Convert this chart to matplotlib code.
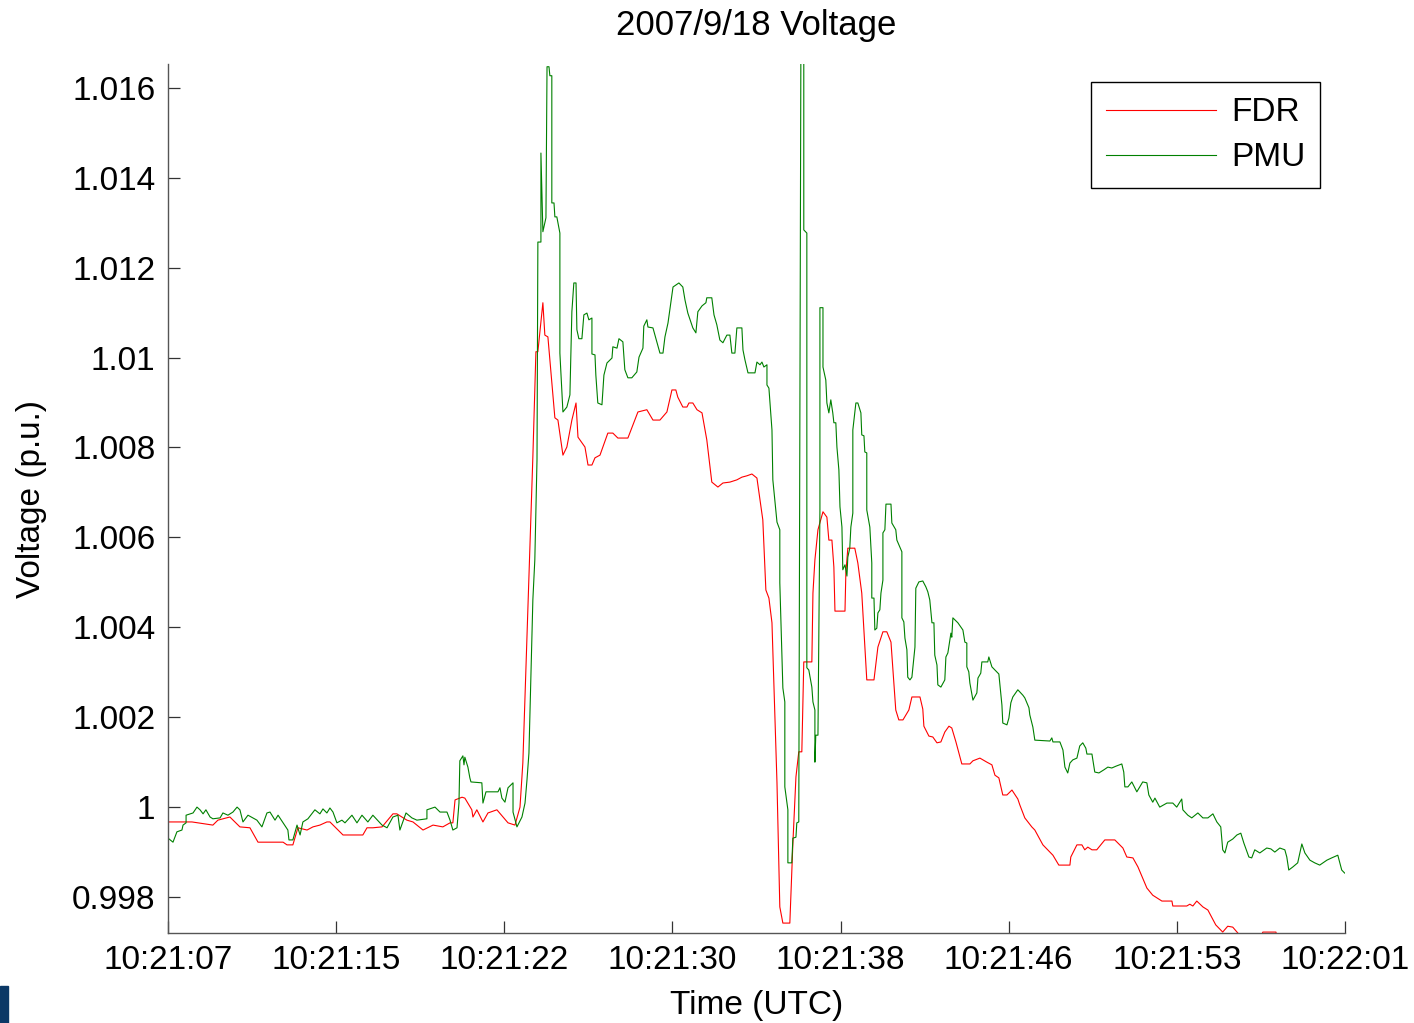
import matplotlib
matplotlib.use('Agg')
import matplotlib.pyplot as plt
import numpy as np

plt.rcParams['font.family'] = ['Liberation Sans', 'DejaVu Sans']

# seconds after 10:21:07
tick_labels = ['10:21:07', '10:21:15', '10:21:22', '10:21:30',
               '10:21:38', '10:21:46', '10:21:53', '10:22:01']

fdr_t = [0.00, 1.10, 2.06, 2.29, 2.84, 3.30, 3.76, 4.13, 5.28, 5.46, 5.73, 5.96, 6.38, 6.65,
         6.97, 7.29, 7.43, 8.03, 8.94, 9.13, 9.40, 9.82, 10.32, 10.50, 10.96, 11.24, 11.70,
         12.16, 12.61, 12.94, 13.07, 13.17, 13.49, 13.62, 13.94, 13.99, 14.17, 14.45, 14.68,
         15.09, 15.37, 15.60, 15.92, 16.15, 16.28, 16.74, 16.88, 16.97, 17.20, 17.29, 17.43,
         17.75, 17.89, 18.07, 18.12, 18.30, 18.53, 18.72, 18.81, 19.13, 19.27, 19.45, 19.59,
         19.82, 20.18, 20.41, 20.64, 21.10, 21.56, 21.97, 22.25, 22.57, 22.89, 23.12, 23.30,
         23.39, 23.62, 23.81, 23.90, 24.08, 24.27, 24.50, 24.72, 24.95, 25.23, 25.46, 25.78,
         26.10, 26.33, 26.56, 26.79, 27.02, 27.29, 27.43, 27.57, 27.71, 27.94, 28.07, 28.21,
         28.53, 28.67, 28.81, 28.94, 29.08, 29.17, 29.54, 29.59, 29.68, 29.82, 30.05, 30.23,
         30.32, 30.46, 30.55, 30.60, 31.06, 31.10, 31.19, 31.51, 31.65, 31.83, 32.06, 32.39,
         32.57, 32.80, 32.98, 33.17, 33.39, 33.53, 33.72, 33.99, 34.13, 34.50, 34.63, 34.68,
         34.91, 35.09, 35.28, 35.46, 35.64, 35.83, 35.96, 36.15, 36.42, 36.79, 36.93, 37.25,
         37.57, 37.80, 37.94, 38.12, 38.30, 38.49, 38.72, 38.99, 39.08, 39.31, 39.63, 39.77,
         40.14, 40.60, 40.87, 41.38, 41.42, 41.70, 41.93, 42.06, 42.20, 42.39, 42.61, 42.98,
         43.44, 43.81, 43.99, 44.27, 44.50, 44.91, 45.18, 45.60, 46.06, 46.10, 46.74, 46.88,
         47.02, 47.20, 47.48, 47.71, 48.07, 48.39, 48.62, 48.85, 49.17, 49.50, 50.15, 50.23,
         50.83, 50.90, 51.50, 52.50, 54.00]
fdr_v = [0.99967, 0.99967, 0.99960, 0.99971, 0.99978, 0.99956, 0.99954, 0.99922, 0.99922,
         0.99916, 0.99916, 0.99954, 0.99949, 0.99956, 0.99960, 0.99967, 0.99967, 0.99938,
         0.99938, 0.99954, 0.99954, 0.99956, 0.99985, 0.99985, 0.99971, 0.99967, 0.99949,
         0.99960, 0.99956, 0.99965, 0.99965, 1.00016, 1.00022, 1.00020, 0.99994, 0.99978,
         0.99994, 0.99967, 0.99987, 0.99994, 0.99978, 0.99965, 0.99960, 1.00000, 1.00098,
         1.00779, 1.01013, 1.01013, 1.01122, 1.01050, 1.01046, 1.00866, 1.00861, 1.00801,
         1.00783, 1.00801, 1.00861, 1.00899, 1.00823, 1.00801, 1.00761, 1.00761, 1.00777,
         1.00783, 1.00832, 1.00832, 1.00821, 1.00821, 1.00879, 1.00884, 1.00861, 1.00861,
         1.00879, 1.00928, 1.00928, 1.00912, 1.00890, 1.00890, 1.00899, 1.00899, 1.00884,
         1.00877, 1.00817, 1.00723, 1.00712, 1.00721, 1.00723, 1.00728, 1.00734, 1.00737,
         1.00741, 1.00732, 1.00639, 1.00483, 1.00465, 1.00410, 1.00054, 0.99778, 0.99742,
         0.99742, 0.99920, 1.00067, 1.00123, 1.00123, 1.00323, 1.00323, 1.00476, 1.00550,
         1.00617, 1.00657, 1.00645, 1.00594, 1.00594, 1.00534, 1.00436, 1.00436, 1.00521,
         1.00576, 1.00576, 1.00543, 1.00476, 1.00283, 1.00283, 1.00356, 1.00390, 1.00390,
         1.00367, 1.00216, 1.00194, 1.00194, 1.00216, 1.00245, 1.00245, 1.00218, 1.00180,
         1.00158, 1.00156, 1.00143, 1.00145, 1.00167, 1.00180, 1.00176, 1.00145, 1.00096,
         1.00096, 1.00103, 1.00109, 1.00100, 1.00094, 1.00071, 1.00065, 1.00027, 1.00027,
         1.00038, 1.00018, 1.00005, 0.99976, 0.99956, 0.99949, 0.99916, 0.99893, 0.99871,
         0.99871, 0.99889, 0.99916, 0.99916, 0.99905, 0.99911, 0.99905, 0.99905, 0.99927,
         0.99927, 0.99909, 0.99889, 0.99887, 0.99867, 0.99820, 0.99804, 0.99791, 0.99791,
         0.99780, 0.99780, 0.99784, 0.99780, 0.99791, 0.99778, 0.99771, 0.99738, 0.99722,
         0.99735, 0.99733, 0.99715, 0.99705, 0.99712, 0.99722, 0.99722, 0.99710, 0.99690,
         0.99680, 0.99680]

pmu_t = [0.00, 0.23, 0.41, 0.64, 0.69, 0.83, 0.83, 1.15, 1.33, 1.47, 1.61, 1.74, 1.93, 2.06,
         2.39, 2.52, 2.75, 2.98, 3.17, 3.30, 3.44, 3.67, 4.08, 4.31, 4.54, 4.68, 4.91, 5.05,
         5.50, 5.55, 5.73, 5.92, 6.06, 6.19, 6.42, 6.74, 6.97, 7.11, 7.29, 7.43, 7.57, 7.75,
         7.98, 8.12, 8.44, 8.67, 8.90, 9.17, 9.40, 9.82, 10.05, 10.32, 10.55, 10.64, 10.92,
         11.19, 11.42, 11.88, 11.88, 12.25, 12.48, 12.80, 12.94, 13.07, 13.26, 13.35, 13.39,
         13.53, 13.58, 13.62, 13.76, 13.85, 13.90, 14.40, 14.45, 14.59, 15.14, 15.23, 15.32,
         15.46, 15.60, 15.83, 15.83, 16.01, 16.24, 16.38, 16.47, 16.56, 16.74, 16.83, 16.93,
         16.97, 17.11, 17.11, 17.20, 17.34, 17.39, 17.48, 17.52, 17.61, 17.61, 17.71, 17.75,
         17.84, 17.98, 17.98, 18.12, 18.30, 18.44, 18.53, 18.62, 18.72, 18.76, 18.85, 18.99,
         19.08, 19.22, 19.31, 19.45, 19.45, 19.59, 19.63, 19.72, 19.91, 20.00, 20.14, 20.37,
         20.41, 20.60, 20.69, 20.87, 20.96, 21.10, 21.28, 21.51, 21.61, 21.79, 21.83, 21.97,
         22.02, 22.25, 22.43, 22.57, 22.71, 22.80, 22.94, 23.07, 23.17, 23.44, 23.62, 23.72,
         23.85, 24.08, 24.22, 24.31, 24.50, 24.68, 24.72, 24.95, 25.05, 25.18, 25.32, 25.46,
         25.64, 25.78, 25.87, 26.01, 26.10, 26.33, 26.38, 26.47, 26.61, 26.93, 27.02, 27.16,
         27.25, 27.34, 27.48, 27.48, 27.57, 27.71, 27.75, 27.84, 27.94, 28.07, 28.07, 28.21,
         28.30, 28.30, 28.44, 28.44, 28.62, 28.67, 28.81, 28.85, 28.94, 29.04, 29.17, 29.17,
         29.31, 29.31, 29.40, 29.54, 29.59, 29.68, 29.68, 29.72, 29.82, 29.91, 29.91, 30.05,
         30.05, 30.18, 30.23, 30.32, 30.41, 30.50, 30.55, 30.64, 30.69, 30.78, 30.83, 30.92,
         30.96, 31.06, 31.15, 31.19, 31.28, 31.33, 31.42, 31.42, 31.56, 31.65, 31.79, 31.83,
         31.93, 31.97, 32.06, 32.06, 32.20, 32.29, 32.29, 32.39, 32.43, 32.52, 32.57, 32.66,
         32.71, 32.80, 32.80, 32.89, 32.94, 33.17, 33.21, 33.39, 33.44, 33.67, 33.67, 33.76,
         33.81, 33.90, 33.94, 34.04, 34.13, 34.27, 34.31, 34.45, 34.63, 34.77, 34.86, 34.95,
         35.05, 35.14, 35.18, 35.28, 35.32, 35.46, 35.64, 35.69, 35.78, 35.92, 35.96, 36.01,
         36.24, 36.47, 36.56, 36.65, 36.65, 36.74, 36.79, 36.93, 37.11, 37.16, 37.29, 37.34,
         37.61, 37.66, 37.80, 38.12, 38.26, 38.30, 38.49, 38.58, 38.67, 38.76, 38.99, 39.22,
         39.31, 39.50, 39.54, 39.68, 39.77, 40.46, 40.55, 40.60, 40.92, 41.06, 41.15, 41.28,
         41.38, 41.51, 41.70, 41.83, 41.97, 42.11, 42.16, 42.39, 42.52, 42.71, 42.94, 43.12,
         43.30, 43.49, 43.76, 43.85, 43.90, 44.04, 44.22, 44.45, 44.72, 44.91, 45.00, 45.18,
         45.28, 45.50, 45.83, 46.10, 46.28, 46.51, 46.56, 46.79, 46.97, 47.25, 47.48, 47.71,
         47.94, 48.12, 48.30, 48.39, 48.49, 48.62, 48.85, 49.04, 49.22, 49.36, 49.59, 49.72,
         49.86, 50.09, 50.41, 50.60, 50.78, 51.01, 51.24, 51.33, 51.42, 51.61, 51.83, 52.02,
         52.16, 52.39, 52.61, 52.84, 53.17, 53.39, 53.67, 53.85, 53.99, 54.17]
pmu_v = [0.99931, 0.99922, 0.99945, 0.99949, 0.99960, 0.99965, 0.99982, 0.99987, 1.00000,
         0.99994, 0.99985, 0.99994, 0.99978, 0.99974, 0.99976, 0.99987, 0.99982, 0.99989,
         1.00000, 0.99994, 0.99967, 0.99982, 0.99971, 0.99956, 0.99987, 0.99989, 0.99971,
         0.99982, 0.99949, 0.99927, 0.99927, 0.99960, 0.99938, 0.99967, 0.99974, 0.99994,
         0.99985, 0.99996, 0.99987, 0.99998, 0.99989, 0.99965, 0.99971, 0.99965, 0.99982,
         0.99965, 0.99982, 0.99967, 0.99982, 0.99960, 0.99954, 0.99978, 0.99982, 0.99949,
         0.99987, 0.99976, 0.99971, 0.99974, 0.99994, 1.00000, 0.99989, 0.99989, 0.99971,
         0.99949, 0.99954, 1.00009, 1.00103, 1.00114, 1.00094, 1.00111, 1.00089, 1.00065,
         1.00056, 1.00054, 1.00009, 1.00034, 1.00034, 1.00043, 1.00020, 1.00011, 1.00043,
         1.00054, 0.99989, 0.99956, 0.99978, 1.00009, 1.00060, 1.00120, 1.00461, 1.00550,
         1.00772, 1.01257, 1.01257, 1.01455, 1.01280, 1.01311, 1.01647, 1.01647, 1.01627,
         1.01627, 1.01344, 1.01344, 1.01313, 1.01313, 1.01277, 1.01010, 1.00879, 1.00890,
         1.00917, 1.01102, 1.01166, 1.01166, 1.01062, 1.01042, 1.01042, 1.01095, 1.01099,
         1.01084, 1.01088, 1.01008, 1.01006, 1.00961, 1.00899, 1.00895, 1.00961, 1.00988,
         1.00999, 1.01024, 1.01021, 1.01042, 1.01035, 1.00973, 1.00955, 1.00955, 1.00968,
         1.01001, 1.01021, 1.01070, 1.01084, 1.01068, 1.01066, 1.01035, 1.01010, 1.01010,
         1.01046, 1.01077, 1.01122, 1.01157, 1.01166, 1.01157, 1.01128, 1.01099, 1.01066,
         1.01055, 1.01102, 1.01115, 1.01122, 1.01133, 1.01133, 1.01095, 1.01073, 1.01039,
         1.01033, 1.01050, 1.01050, 1.01010, 1.01010, 1.01066, 1.01066, 1.01017, 1.00995,
         1.00966, 1.00966, 1.00990, 1.00984, 1.00990, 1.00979, 1.00984, 1.00939, 1.00932,
         1.00839, 1.00728, 1.00683, 1.00634, 1.00617, 1.00499, 1.00265, 1.00234, 1.00045,
         0.99994, 0.99876, 0.99876, 0.99931, 0.99933, 0.99965, 0.99967, 1.01750, 1.01750,
         1.01284, 1.01277, 1.00310, 1.00305, 1.00267, 1.00234, 1.00216, 1.00100, 1.00160,
         1.00160, 1.00661, 1.01111, 1.01111, 1.00979, 1.00950, 1.00899, 1.00877, 1.00906,
         1.00877, 1.00855, 1.00855, 1.00801, 1.00750, 1.00668, 1.00623, 1.00528, 1.00539,
         1.00514, 1.00556, 1.00576, 1.00623, 1.00654, 1.00839, 1.00899, 1.00899, 1.00877,
         1.00828, 1.00826, 1.00790, 1.00788, 1.00661, 1.00623, 1.00543, 1.00465, 1.00465,
         1.00394, 1.00398, 1.00432, 1.00439, 1.00476, 1.00505, 1.00610, 1.00617, 1.00674,
         1.00674, 1.00632, 1.00617, 1.00594, 1.00568, 1.00421, 1.00412, 1.00376, 1.00350,
         1.00289, 1.00283, 1.00289, 1.00356, 1.00487, 1.00501, 1.00503, 1.00490, 1.00479,
         1.00461, 1.00410, 1.00410, 1.00338, 1.00316, 1.00272, 1.00267, 1.00283, 1.00334,
         1.00343, 1.00387, 1.00378, 1.00421, 1.00410, 1.00394, 1.00367, 1.00365, 1.00312,
         1.00301, 1.00276, 1.00238, 1.00254, 1.00287, 1.00298, 1.00323, 1.00323, 1.00334,
         1.00312, 1.00296, 1.00227, 1.00187, 1.00183, 1.00198, 1.00232, 1.00245, 1.00261,
         1.00249, 1.00243, 1.00221, 1.00205, 1.00178, 1.00149, 1.00147, 1.00154, 1.00145,
         1.00145, 1.00127, 1.00089, 1.00076, 1.00098, 1.00105, 1.00109, 1.00136, 1.00143,
         1.00131, 1.00118, 1.00118, 1.00078, 1.00076, 1.00083, 1.00089, 1.00087, 1.00091,
         1.00096, 1.00078, 1.00045, 1.00045, 1.00056, 1.00034, 1.00056, 1.00054, 1.00027,
         1.00011, 1.00020, 1.00000, 1.00009, 1.00009, 1.00000, 1.00018, 0.99994, 0.99982,
         0.99976, 0.99987, 0.99976, 0.99976, 0.99985, 0.99967, 0.99956, 0.99905, 0.99898,
         0.99922, 0.99929, 0.99938, 0.99942, 0.99920, 0.99889, 0.99887, 0.99905, 0.99898,
         0.99909, 0.99907, 0.99900, 0.99909, 0.99905, 0.99889, 0.99860, 0.99867, 0.99876,
         0.99918, 0.99898, 0.99882, 0.99876, 0.99871, 0.99882, 0.99887, 0.99893, 0.99860,
         0.99853, 0.99853]

fig = plt.figure(figsize=(14.14, 10.23), dpi=100)
ax = fig.add_axes([0.1188, 0.0880, 0.8324, 0.8494])

ax.plot(fdr_t, fdr_v, color='#ff0000', lw=0.8, label='FDR')
ax.plot(pmu_t, pmu_v, color='#008000', lw=0.8, label='PMU')

ax.set_xlim(0, 54)
ax.set_ylim(0.99720, 1.01653)
ax.set_xticks(np.linspace(0, 54, len(tick_labels)))
ax.set_xticklabels(tick_labels)
yt = np.arange(0.998, 1.0161, 0.002)
ax.set_yticks(yt)
ax.set_yticklabels(['%g' % round(v, 3) for v in yt])

for s in ['top', 'right']:
    ax.spines[s].set_visible(False)
for s in ['left', 'bottom']:
    ax.spines[s].set_color('#555555')
    ax.spines[s].set_linewidth(1.0)
ax.tick_params(direction='in', length=8.5, width=0.9, color='#333333',
               labelsize=24, pad=9)

ax.set_title('2007/9/18 Voltage', fontsize=25, pad=21)
ax.set_xlabel('Time (UTC)', fontsize=24, labelpad=10)
ax.set_ylabel('Voltage (p.u.)', fontsize=24, labelpad=18)

leg = ax.legend(loc='upper right', bbox_to_anchor=(0.979, 0.979),
                borderaxespad=0, fontsize=24,
                fancybox=False, edgecolor='black', framealpha=1,
                handlelength=3.3, handletextpad=0.45, borderpad=0.45,
                labelspacing=0.42)
leg.get_frame().set_linewidth(1.0)

fig.patches.append(plt.Rectangle((0, 0), 0.006, 0.036, transform=fig.transFigure,
                                 color='#0b3866', zorder=5))

fig.savefig('out.png', dpi=100)
